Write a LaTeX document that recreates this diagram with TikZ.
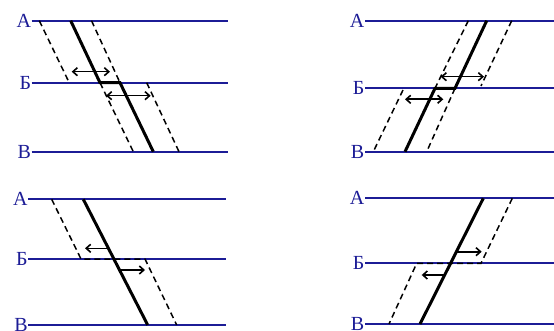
\documentclass[tikz,border=0pt]{standalone}
\usepackage{fontspec}
\setmainfont{Liberation Serif}
\usepackage{tikz}
\usetikzlibrary{arrows.meta}
\definecolor{LayerBlue}{RGB}{28,28,150}

\begin{document}
\begin{tikzpicture}[x=1pt, y=-1pt,
      level/.style={draw=LayerBlue, line width=2pt},
      lbl/.style={text=LayerBlue, font=\fontsize{20}{20}\selectfont,
                  inner sep=0.5pt, anchor=east},
      bed/.style={line width=3pt, line join=miter},
      ghost/.style={line width=1.5pt, dash pattern=on 6pt off 4pt},
      shove/.style={line width=1.6pt, -{Straight Barb[length=4.5pt,width=8pt]}},
      shove2/.style={line width=1.6pt, {Straight Barb[length=4.5pt,width=8pt]}-{Straight Barb[length=4.5pt,width=8pt]}}
    ]
    \useasboundingbox (0,0) rectangle (554,331);

    % Panel 1: top left
    \node[lbl] (p1A) at (31.7,20.7) {А};
    \node[lbl] (p1B) at (31.7,82.7) {Б};
    \node[lbl] (p1V) at (31.7,151.7) {В};
    \coordinate (p1Aend) at (228,20.7);
    \coordinate (p1Bend) at (228,82.7);
    \coordinate (p1Vend) at (228,151.7);
    \draw[level] (p1A) -- (p1Aend);
    \draw[level] (p1B) -- (p1Bend);
    \draw[level] (p1V) -- (p1Vend);
    \draw[ghost] (39.3,20.7) -- (68.4,81);
    \draw[ghost] (91.5,20.7) -- (120,82.7);
    \draw[ghost] (100,82.7) -- (133.3,151.7);
    \draw[ghost] (146.7,82.7) -- (179,151.7);
    \draw[bed] (70.7,20.7) -- (100,82.7) -- (120,82.7) -- (153.3,151.7);
    \draw[shove2] (71.7,71.7) -- (110,71.7);
    \draw[shove2] (106,95.7) -- (150.7,95.7);

    % Panel 2: top right
    \node[lbl] (p2A) at (365,20.7) {А};
    \node[lbl] (p2B) at (365,88.3) {Б};
    \node[lbl] (p2V) at (365,151.7) {В};
    \coordinate (p2Aend) at (554,20.7);
    \coordinate (p2Bend) at (554,88.3);
    \coordinate (p2Vend) at (554,151.7);
    \draw[level] (p2A) -- (p2Aend);
    \draw[level] (p2B) -- (p2Bend);
    \draw[level] (p2V) -- (p2Vend);
    \draw[ghost] (468.3,20.7) -- (435,88.3);
    \draw[ghost] (511.7,20.7) -- (481,86);
    \draw[ghost] (403,90) -- (373.3,151.7);
    \draw[ghost] (455,88.3) -- (426.7,151.7);
    \draw[bed] (486.7,20.7) -- (455,88.3) -- (435,88.3) -- (405,151.7);
    \draw[shove2] (440.7,76.7) -- (484,76.7);
    \draw[shove2] (405,99.3) -- (443.3,99.3);

    % Panel 3: bottom left
    \node[lbl] (p3A) at (28.3,199.3) {А};
    \node[lbl] (p3B) at (28.3,259) {Б};
    \node[lbl] (p3V) at (28.3,325) {В};
    \coordinate (p3Aend) at (226,199.3);
    \coordinate (p3Bend) at (226,259);
    \coordinate (p3Vend) at (226,325);
    \draw[level] (p3A) -- (p3Aend);
    \draw[level] (p3B) -- (p3Bend);
    \draw[level] (p3V) -- (p3Vend);
    \draw[ghost] (51.7,199.3) -- (81,259) -- (145,259) -- (176.7,325);
    \draw[bed] (83.3,199.3) -- (147.7,325);
    \draw[shove] (108.3,248.3) -- (85,248.3);
    \draw[shove] (120,270) -- (145,270);

    % Panel 4: bottom right
    \node[lbl] (p4A) at (365,198.3) {А};
    \node[lbl] (p4B) at (365,263.3) {Б};
    \node[lbl] (p4V) at (365,324) {В};
    \coordinate (p4Aend) at (554,198.3);
    \coordinate (p4Bend) at (554,263.3);
    \coordinate (p4Vend) at (554,324);
    \draw[level] (p4A) -- (p4Aend);
    \draw[level] (p4B) -- (p4Bend);
    \draw[level] (p4V) -- (p4Vend);
    \draw[ghost] (512.3,198.3) -- (481,263.3) -- (416.7,263.3) -- (389,324);
    \draw[bed] (483.3,198.3) -- (420,324);
    \draw[shove] (456.7,251.7) -- (481.7,251.7);
    \draw[shove] (445,275) -- (421.7,275);
  \end{tikzpicture}
\end{document}
